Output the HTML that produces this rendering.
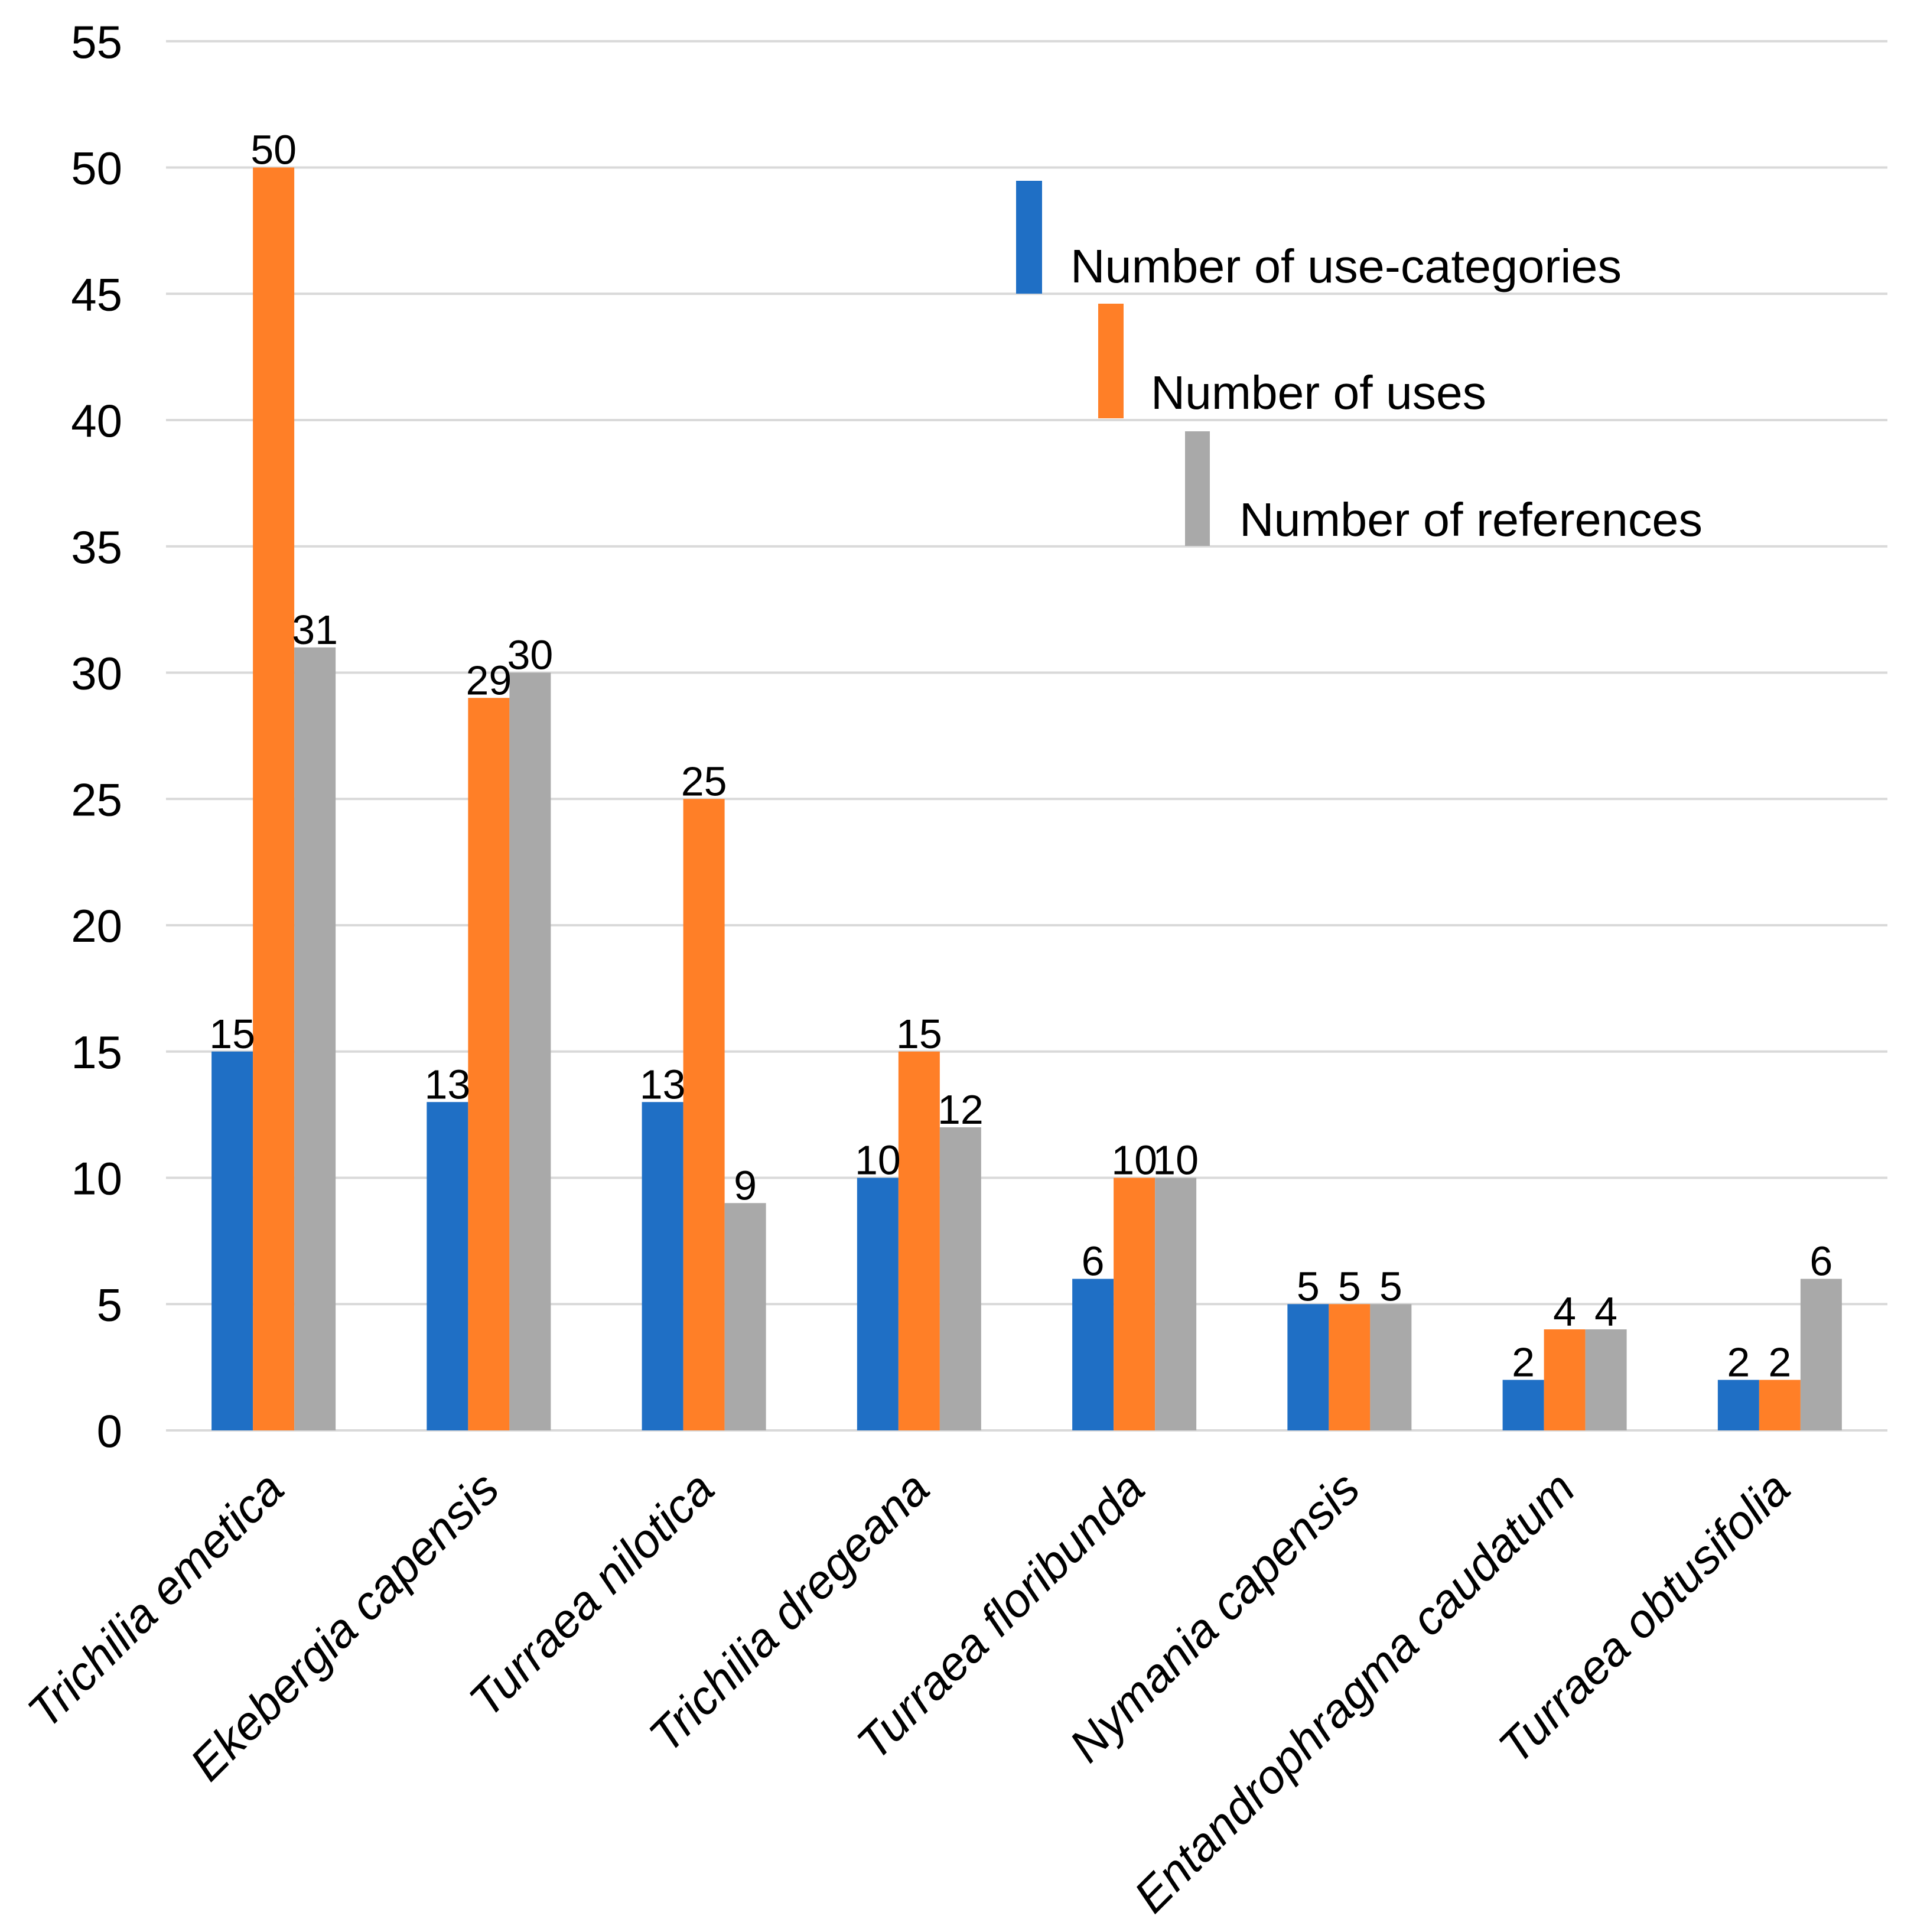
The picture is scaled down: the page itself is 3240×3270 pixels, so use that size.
<!DOCTYPE html>
<html><head><meta charset="utf-8"><style>
html,body{margin:0;padding:0;background:#fff;}
svg{display:block;font-family:"Liberation Sans",Arial,sans-serif;}
</style></head><body>
<svg id="chart" width="3240" height="3270" viewBox="0 0 3240 3270" xmlns="http://www.w3.org/2000/svg">
<g id="grid"></g>
<g id="yaxis"></g>
<g id="bars"></g>
<g id="vals"></g>
<g id="xaxis"></g>
<g id="legend">
  <g>
    <rect x="1720" y="306" width="44" height="191" fill="#1f6fc5"/>
    <text x="1812" y="478" font-size="80" textLength="933" lengthAdjust="spacingAndGlyphs">Number of use-categories</text>
  </g>
  <g>
    <rect x="1859" y="514" width="43" height="194" fill="#ff7f27"/>
    <text x="1948" y="692" font-size="80" textLength="568" lengthAdjust="spacingAndGlyphs">Number of uses</text>
  </g>
  <g>
    <rect x="2006" y="730" width="42" height="194" fill="#a9a9a9"/>
    <text x="2098" y="907" font-size="80" textLength="784" lengthAdjust="spacingAndGlyphs">Number of references</text>
  </g>
</g>
</svg>
<script>
const categories = ["Trichilia emetica","Ekebergia capensis","Turraea nilotica","Trichilia dregeana","Turraea floribunda","Nymania capensis","Entandrophragma caudatum","Turraea obtusifolia"];
const useCategories = [15,13,13,10,6,5,2,2];
const uses = [50,29,25,15,10,5,4,2];
const references = [31,30,9,12,10,5,4,6];
const yTicks = [0,5,10,15,20,25,30,35,40,45,50,55];

const NS = "http://www.w3.org/2000/svg";
const plotL = 281, plotR = 3195, y0 = 2421, unit = 42.75;
const band = (plotR - plotL) / categories.length;
const barW = 70;
const yScale = v => y0 - v * unit;
const xCenter = i => plotL + band * (i + 0.5);
function mk(tag, attrs, parent){const e=document.createElementNS(NS,tag);for(const k in attrs)e.setAttribute(k,attrs[k]);parent.appendChild(e);return e;}

const grid = document.getElementById('grid'), yaxis = document.getElementById('yaxis');
yTicks.forEach(t=>{
  const l = mk('line',{x1:plotL,x2:plotR,y1:yScale(t),y2:yScale(t),stroke:'#d9d9d9','stroke-width':4},grid);
  
  
  const tx = mk('text',{x:207,y:yScale(t)+28,'font-size':78,'text-anchor':'end',fill:'#000'},yaxis);
  tx.textContent = t;
  
  
});

const series = [{vals:useCategories,color:'#1f6fc5',name:'use-categories'},{vals:uses,color:'#ff7f27',name:'uses'},{vals:references,color:'#a9a9a9',name:'references'}];
const bars = document.getElementById('bars'), vals = document.getElementById('vals'), xaxis = document.getElementById('xaxis');
categories.forEach((c,i)=>{
  series.forEach((s,j)=>{
    const x = xCenter(i) + (j-1.5)*barW;
    const v = s.vals[i];
    const r = mk('rect',{x:x,y:yScale(v),width:barW,height:y0-yScale(v),fill:s.color},bars);
    
    
    const t = mk('text',{x:x+barW/2,y:yScale(v)-6,'font-size':70,'text-anchor':'middle',fill:'#000'},vals);
    t.textContent = v;
    
    
  });
  const px = xCenter(i)+22, py = 2525;
  const lt = mk('text',{x:px,y:py,'font-size':80,'font-style':'italic','text-anchor':'end',fill:'#000',transform:`rotate(-45 ${px} ${py})`},xaxis);
  lt.textContent = c;
  
  
});
</script>
</body></html>
